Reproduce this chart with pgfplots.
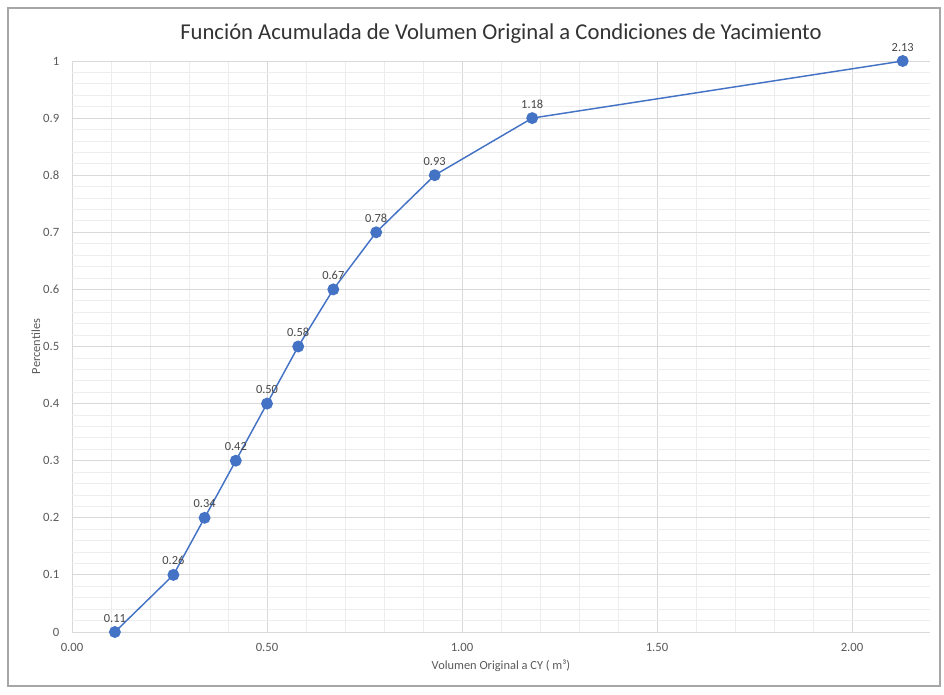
\documentclass[border=0pt]{standalone}
\usepackage{pgfplots}
\pgfplotsset{compat=1.18}
\usepackage{fontspec}
\setmainfont{Carlito}
\definecolor{lineblue}{HTML}{4472C4}
\definecolor{tickgray}{HTML}{595959}
\definecolor{majgrid}{HTML}{D9D9D9}
\definecolor{mingrid}{HTML}{EDEDED}
\begin{document}
\begin{tikzpicture}
\path[use as bounding box] (-54pt,-46.5pt) rectangle (654pt,474pt);
\draw[color=black!35, line width=1.2pt] (-48pt,-40.5pt) rectangle (651pt,468pt);
\begin{axis}[
  scale only axis,
  width=643.5pt, height=428.25pt,
  at={(0pt,0pt)}, anchor=south west,
  xmin=0, xmax=2.2, ymin=0, ymax=1,
  xtick={0,0.5,1,1.5,2},
  ytick={0,0.1,0.2,0.3,0.4,0.5,0.6,0.7,0.8,0.9,1},
  minor x tick num=4,
  minor y tick num=4,
  grid=both,
  major grid style={majgrid, line width=0.7pt},
  minor grid style={mingrid, line width=0.6pt},
  axis line style={draw=none},
  tick style={draw=none},
  /pgf/number format/assume math mode=true,
  xticklabel style={/pgf/number format/fixed, /pgf/number format/fixed zerofill, /pgf/number format/precision=2, yshift=-5pt},
  yticklabel style={/pgf/number format/fixed, /pgf/number format/precision=1, xshift=-6pt},
  ticklabel style={font=\fontsize{9.5}{11}\selectfont, text=tickgray},
  title={Función Acumulada de Volumen Original a Condiciones de Yacimiento},
  title style={font=\fontsize{17}{20}\selectfont, text=black!80, yshift=4pt},
  xlabel={Volumen Original a CY ( m³)},
  ylabel={Percentiles},
  label style={font=\fontsize{9.3}{11}\selectfont, text=tickgray},
  xlabel style={yshift=1pt},
  ylabel style={yshift=-4.5pt},
  clip=false,
]
\addplot[
  color=lineblue, line width=1.1pt,
  mark=*, mark size=3.9pt, mark options={fill=lineblue, draw=lineblue},
  point meta=x,
  nodes near coords={\pgfmathprintnumber[fixed,fixed zerofill,precision=2]{\pgfplotspointmeta}},
  nodes near coords align={vertical},
  every node near coord/.append style={font=\fontsize{9.3}{11}\selectfont, text=black!72, anchor=south, yshift=3.5pt},
] coordinates {
  (0.11,0) (0.26,0.1) (0.34,0.2) (0.42,0.3) (0.50,0.4) (0.58,0.5)
  (0.67,0.6) (0.78,0.7) (0.93,0.8) (1.18,0.9) (2.13,1)
};
\end{axis}
\end{tikzpicture}
\end{document}
